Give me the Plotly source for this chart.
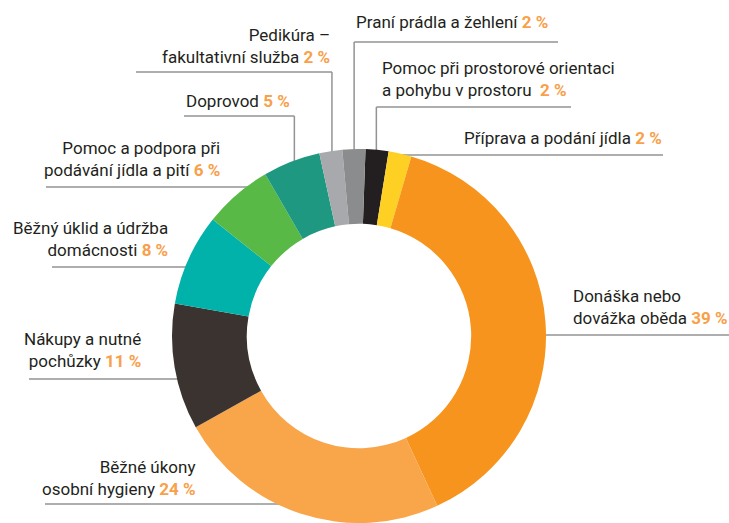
import math
import plotly.graph_objects as go

W, H = 729, 523

# ---- data (clockwise from 12 o'clock) ----
categories = [
    "Pomoc při prostorové orientaci a pohybu v prostoru",
    "Příprava a podání jídla",
    "Donáška nebo dovážka oběda",
    "Běžné úkony osobní hygieny",
    "Nákupy a nutné pochůzky",
    "Běžný úklid a údržba domácnosti",
    "Pomoc a podpora při podávání jídla a pití",
    "Doprovod",
    "Pedikúra – fakultativní služba",
    "Praní prádla a žehlení",
]
values = [2, 2, 39, 24, 11, 8, 6, 5, 2, 2]
label_lines = [
    ["Pomoc při prostorové orientaci", "a pohybu v prostoru "],
    ["Příprava a podání jídla"],
    ["Donáška nebo", "dovážka oběda"],
    ["Běžné úkony", "osobní hygieny"],
    ["Nákupy a nutné", "pochůzky"],
    ["Běžný úklid a údržba", "domácnosti"],
    ["Pomoc a podpora při", "podávání jídla a pití"],
    ["Doprovod"],
    ["Pedikúra –", "fakultativní služba"],
    ["Praní prádla a žehlení"],
]
colors = ["#231f20", "#fdd023", "#f7941d", "#f9a54a", "#3b3330",
          "#00b2a9", "#58b947", "#1e9880", "#a7a9ac", "#8a8c8e"]

TEXT_COLOR = "#231f20"
PCT_COLOR = "#f8a04a"
LINE_COLOR = "#939393"
FONT = "Roboto, Liberation Sans, sans-serif"
FS = 17

# ---- geometry (pixels) ----
cx, cy, R = 359, 336, 187
rotation = 2
hole = 0.6

def px(x):
    return x / W

def py(y):
    return 1 - y / H

total = sum(values)
mid_angles = []
cum = 0
for v in values:
    mid_angles.append(math.radians(rotation + (cum + v / 2) / total * 360))
    cum += v

def ring_point(i, r):
    a = mid_angles[i]
    return cx + r * math.sin(a), cy - r * math.cos(a)

# label placement: (kind, text x, text y, line y, far end x)
placement = [
    ("top_right", 380, 78.5, 107, 571),
    ("right", 462, 138, 155, 663),
    ("right", 571, 306.5, 335, 729),
    ("left", 197, 477.5, 504, 45),
    ("left", 143, 349.5, 379, 29),
    ("left", 170, 239.5, 267, 52),
    ("left", 222, 158.5, 187, 46),
    ("top_left", 292, 101, 116, 184),
    ("top_left", 332, 45.5, 72, 136),
    ("top_right", 354, 22, 42, 558),
]

fig = go.Figure(go.Pie(
    labels=categories,
    values=values,
    marker=dict(colors=colors, line=dict(width=0)),
    hole=hole,
    sort=False,
    direction="clockwise",
    rotation=rotation,
    textinfo="none",
    hoverinfo="label+percent",
    showlegend=False,
    domain=dict(x=[px(cx - R), px(cx + R)], y=[py(cy + R), py(cy - R)]),
))

shapes = []
annotations = []
for i, (kind, tx, ty, ly, far) in enumerate(placement):
    lines = list(label_lines[i])
    lines[-1] = lines[-1] + f" <b><span style='color:{PCT_COLOR}'>{values[i]} %</span></b>"
    text = "<br>".join(lines)
    left_side = kind in ("left", "top_left")
    annotations.append(dict(
        x=px(tx), y=py(ty), xref="paper", yref="paper",
        text=text, showarrow=False,
        xanchor="right" if left_side else "left",
        yanchor="middle",
        align="right" if left_side else "left",
        font=dict(family=FONT, size=FS, color=TEXT_COLOR),
    ))
    if kind.startswith("top"):
        mx, my = ring_point(i, R - 8)
        x0, x1 = (far, mx) if left_side else (mx, far)
        shapes.append(dict(type="line", xref="paper", yref="paper",
                           x0=px(x0), x1=px(x1), y0=py(ly), y1=py(ly),
                           line=dict(color=LINE_COLOR, width=1.5), layer="below"))
        shapes.append(dict(type="line", xref="paper", yref="paper",
                           x0=px(mx), x1=px(mx), y0=py(ly), y1=py(my),
                           line=dict(color=LINE_COLOR, width=1.5), layer="below"))
    else:
        dy = ly - cy
        half = math.sqrt(max(R * R - dy * dy, 0))
        edge = cx - half + 10 if left_side else cx + half - 10
        shapes.append(dict(type="line", xref="paper", yref="paper",
                           x0=px(far), x1=px(edge), y0=py(ly), y1=py(ly),
                           line=dict(color=LINE_COLOR, width=1.5), layer="below"))

fig.update_layout(
    width=W, height=H, autosize=False,
    margin=dict(l=0, r=0, t=0, b=0),
    paper_bgcolor="white", plot_bgcolor="white",
    shapes=shapes, annotations=annotations,
)

fig.write_html("out.html", config={"displayModeBar": False},
               post_script="document.body.style.margin='0px';")
